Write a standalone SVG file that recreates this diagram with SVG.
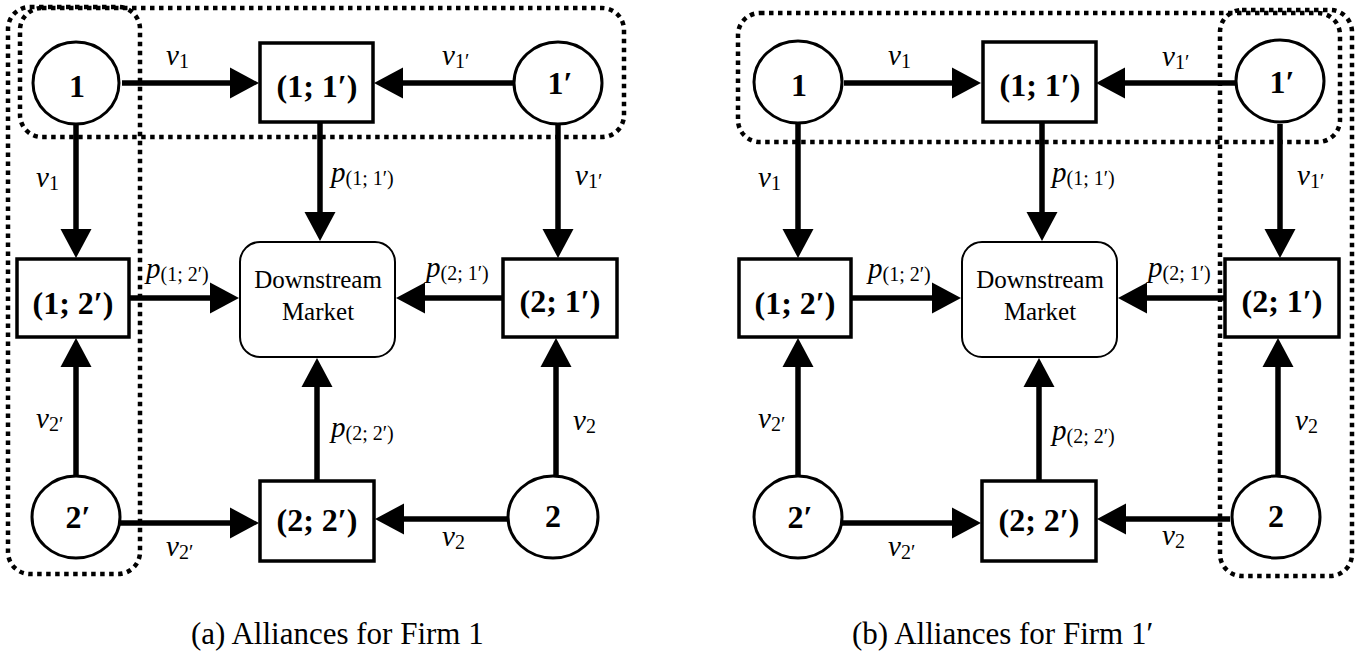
<svg xmlns="http://www.w3.org/2000/svg" width="1356" height="656" viewBox="0 0 1356 656">
  <defs>
    <style>
      .grp { fill: none; stroke: #000; stroke-width: 4.5; stroke-dasharray: 4.5 4.5; }
      .circ { fill: #fff; stroke: #000; stroke-width: 3; }
      .box { fill: #fff; stroke: #000; stroke-width: 3.5; }
      .mkt { fill: #fff; stroke: #000; stroke-width: 2; }
      .edge { fill: none; stroke: #000; stroke-width: 5.5; marker-end: url(#head); }
      text { font-family: "Liberation Serif", "DejaVu Serif", serif; fill: #000; }
      .nl { font-weight: bold; font-size: 32px; text-anchor: middle; }
      .mk { font-size: 25px; text-anchor: middle; }
      .lb { font-style: italic; font-size: 29px; }
      .sb { font-style: normal; font-size: 20px; }
      .cap { font-size: 31px; }
    </style>
    <marker id="head" viewBox="0 -16 30 32" refX="1" refY="0" markerWidth="30" markerHeight="32" markerUnits="userSpaceOnUse" orient="auto">
      <path d="M0,-15.5 L29,0 L0,15.5 Z" fill="#000"/>
    </marker>
  </defs>
  <rect width="1356" height="656" fill="#fff"/>

  <!-- Panel (a): alliances for firm 1 -->
  <g id="panel-a">
    <g id="a-groups">
      <rect class="grp" x="20" y="8" width="604" height="129" rx="22"/>
      <rect class="grp" x="8" y="7" width="132" height="567" rx="22"/>
    </g>
    <g id="a-connectors">
      <path class="edge" d="M122,83 H231"/>
      <path class="edge" d="M513,83 H402"/>
      <path class="edge" d="M76,124 V230"/>
      <path class="edge" d="M320,122 V213"/>
      <path class="edge" d="M558,124 V230"/>
      <path class="edge" d="M129,298 H211"/>
      <path class="edge" d="M503,298 H424"/>
      <path class="edge" d="M76,476 V366"/>
      <path class="edge" d="M317,481 V386"/>
      <path class="edge" d="M556,476 V366"/>
      <path class="edge" d="M120,523 H231"/>
      <path class="edge" d="M508,519 H403"/>
    </g>
    <g id="a-labels">
      <text class="lb" x="166" y="65">v<tspan class="sb" dy="3">1</tspan></text>
      <text class="lb" x="442" y="65">v<tspan class="sb" dy="3">1′</tspan></text>
      <text class="lb" x="36" y="187">v<tspan class="sb" dy="3">1</tspan></text>
      <text class="lb" x="331" y="182">p<tspan class="sb" dy="3">(1; 1′)</tspan></text>
      <text class="lb" x="575" y="185">v<tspan class="sb" dy="3">1′</tspan></text>
      <text class="lb" x="146" y="278">p<tspan class="sb" dy="3">(1; 2′)</tspan></text>
      <text class="lb" x="426" y="277">p<tspan class="sb" dy="3">(2; 1′)</tspan></text>
      <text class="lb" x="36" y="428">v<tspan class="sb" dy="3">2′</tspan></text>
      <text class="lb" x="573" y="430">v<tspan class="sb" dy="3">2</tspan></text>
      <text class="lb" x="331" y="437">p<tspan class="sb" dy="3">(2; 2′)</tspan></text>
      <text class="lb" x="166" y="556">v<tspan class="sb" dy="3">2′</tspan></text>
      <text class="lb" x="442" y="546">v<tspan class="sb" dy="3">2</tspan></text>
    </g>
    <g id="a-firm-1"><ellipse class="circ" cx="76" cy="83" rx="43" ry="41"/><text class="nl" x="77" y="97">1</text></g>
    <g id="a-firm-1p"><ellipse class="circ" cx="558" cy="83" rx="44" ry="41"/><text class="nl" x="560" y="94">1′</text></g>
    <g id="a-firm-2p"><ellipse class="circ" cx="76" cy="517" rx="44" ry="41"/><text class="nl" x="78" y="528">2′</text></g>
    <g id="a-firm-2"><ellipse class="circ" cx="553" cy="517" rx="45" ry="41"/><text class="nl" x="553" y="527">2</text></g>
    <g id="a-pair-1-1p"><rect class="box" x="260" y="43" width="113" height="79"/><text class="nl" x="317" y="97">(1; 1′)</text></g>
    <g id="a-pair-1-2p"><rect class="box" x="17" y="259" width="112" height="78"/><text class="nl" x="73" y="314">(1; 2′)</text></g>
    <g id="a-pair-2-1p"><rect class="box" x="503" y="259" width="114" height="78"/><text class="nl" x="560" y="312">(2; 1′)</text></g>
    <g id="a-pair-2-2p"><rect class="box" x="260" y="481" width="114" height="80"/><text class="nl" x="317" y="531">(2; 2′)</text></g>
    <g id="a-market"><rect class="mkt" x="240" y="242" width="155" height="115" rx="20"/><text class="mk" x="318" y="288">Downstream</text><text class="mk" x="318" y="320">Market</text></g>
    <text id="a-caption" class="cap" x="191" y="644">(a) Alliances for Firm 1</text>
  </g>

  <!-- Panel (b): alliances for firm 1′ -->
  <g id="panel-b">
    <g id="b-groups">
      <rect class="grp" x="738" y="13" width="602" height="129" rx="22"/>
      <rect class="grp" x="1220" y="10" width="132" height="566" rx="22"/>
    </g>
    <g transform="translate(722,0)">
      <g id="b-connectors">
        <path class="edge" d="M122,83 H231"/>
        <path class="edge" d="M513,83 H402"/>
        <path class="edge" d="M76,124 V230"/>
        <path class="edge" d="M320,122 V213"/>
        <path class="edge" d="M558,124 V230"/>
        <path class="edge" d="M129,298 H211"/>
        <path class="edge" d="M503,298 H424"/>
        <path class="edge" d="M76,476 V366"/>
        <path class="edge" d="M317,481 V386"/>
        <path class="edge" d="M556,476 V366"/>
        <path class="edge" d="M120,523 H231"/>
        <path class="edge" d="M508,519 H403"/>
      </g>
      <g id="b-labels">
        <text class="lb" x="166" y="65">v<tspan class="sb" dy="3">1</tspan></text>
        <text class="lb" x="440" y="66">v<tspan class="sb" dy="3">1′</tspan></text>
        <text class="lb" x="36" y="187">v<tspan class="sb" dy="3">1</tspan></text>
        <text class="lb" x="330" y="182">p<tspan class="sb" dy="3">(1; 1′)</tspan></text>
        <text class="lb" x="575" y="185">v<tspan class="sb" dy="3">1′</tspan></text>
        <text class="lb" x="146" y="278">p<tspan class="sb" dy="3">(1; 2′)</tspan></text>
        <text class="lb" x="426" y="277">p<tspan class="sb" dy="3">(2; 1′)</tspan></text>
        <text class="lb" x="36" y="428">v<tspan class="sb" dy="3">2′</tspan></text>
        <text class="lb" x="573" y="430">v<tspan class="sb" dy="3">2</tspan></text>
        <text class="lb" x="330" y="440">p<tspan class="sb" dy="3">(2; 2′)</tspan></text>
        <text class="lb" x="166" y="556">v<tspan class="sb" dy="3">2′</tspan></text>
        <text class="lb" x="440" y="545">v<tspan class="sb" dy="3">2</tspan></text>
      </g>
      <g id="b-firm-1"><ellipse class="circ" cx="76" cy="82" rx="44" ry="41"/><text class="nl" x="77" y="96">1</text></g>
      <g id="b-firm-1p"><ellipse class="circ" cx="558" cy="81" rx="44" ry="41"/><text class="nl" x="560" y="93">1′</text></g>
      <g id="b-firm-2p"><ellipse class="circ" cx="76" cy="517" rx="44" ry="41"/><text class="nl" x="78" y="528">2′</text></g>
      <g id="b-firm-2"><ellipse class="circ" cx="554" cy="517" rx="44" ry="41"/><text class="nl" x="554" y="527">2</text></g>
      <g id="b-pair-1-1p"><rect class="box" x="261" y="42" width="113" height="80"/><text class="nl" x="318" y="96">(1; 1′)</text></g>
      <g id="b-pair-1-2p"><rect class="box" x="17" y="259" width="112" height="78"/><text class="nl" x="73" y="314">(1; 2′)</text></g>
      <g id="b-pair-2-1p"><rect class="box" x="503" y="259" width="114" height="78"/><text class="nl" x="560" y="312">(2; 1′)</text></g>
      <g id="b-pair-2-2p"><rect class="box" x="260" y="481" width="114" height="80"/><text class="nl" x="317" y="531">(2; 2′)</text></g>
      <g id="b-market"><rect class="mkt" x="240" y="242" width="155" height="115" rx="20"/><text class="mk" x="318" y="288">Downstream</text><text class="mk" x="318" y="320">Market</text></g>
    </g>
    <text id="b-caption" class="cap" x="852" y="644">(b) Alliances for Firm 1′</text>
  </g>
</svg>
